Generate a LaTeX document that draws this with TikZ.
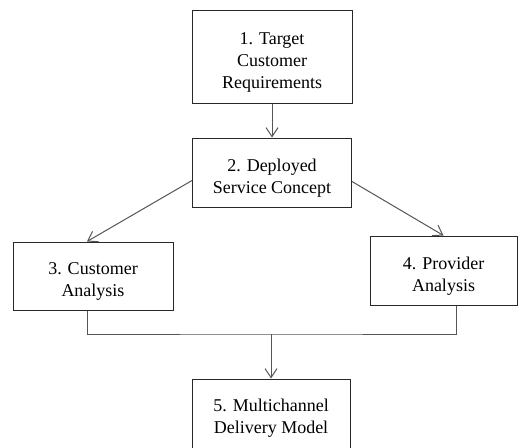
\documentclass[tikz,border=0pt]{standalone}
\usepackage{fontspec}
\setmainfont{Liberation Serif}
\usetikzlibrary{arrows.meta}

\definecolor{boxline}{RGB}{40,40,40}
\definecolor{flowline}{RGB}{85,85,85}

\begin{document}
\begin{tikzpicture}[x=1pt,y=-1pt,
	stage/.style={draw=boxline,line width=1pt,align=center,inner sep=0pt,
		text depth=0pt,text height=41pt,font=\fontsize{18}{22}\selectfont},
	flow/.style={draw=flowline,line width=1pt},
	arr/.style={flow,-{Straight Barb[length=9pt,width=12pt]}}]
\useasboundingbox (0,0) rectangle (518,447);
\clip (0,0) rectangle (518,447);

\node (b1) at (272,56.5) [stage,text height=63pt,minimum width=160pt,minimum height=93pt] {1. Target\\Customer\\Requirements};
\node (b2) at (272,172.5) [stage,minimum width=159pt,minimum height=69pt] {2. Deployed\\Service  Concept};
\node (b3) at (93,276) [stage,minimum width=160pt,minimum height=68pt] {3. Customer\\Analysis};
\node (b4) at (443.5,270.5) [stage,minimum width=147pt,minimum height=69pt] {4. Provider\\Analysis};
\node (b5) at (271,414) [stage,text height=38pt,minimum width=158pt,minimum height=70pt] {5. Multichannel\\Delivery  Model};

\draw[arr] (b1.south) -- (b2.north);
\draw[arr] ([yshift=-8pt]b2.west) -- ([xshift=-6pt]b3.north);
\draw[arr] ([yshift=-9pt]b2.east) -- (b4.north);

\coordinate (join) at (b5.north |- 0,334);
\draw[flow] ([xshift=-6pt]b3.south) |- (join) -| ([xshift=13pt]b4.south);
\draw[arr] (join) -- (b5.north);
\end{tikzpicture}
\end{document}
